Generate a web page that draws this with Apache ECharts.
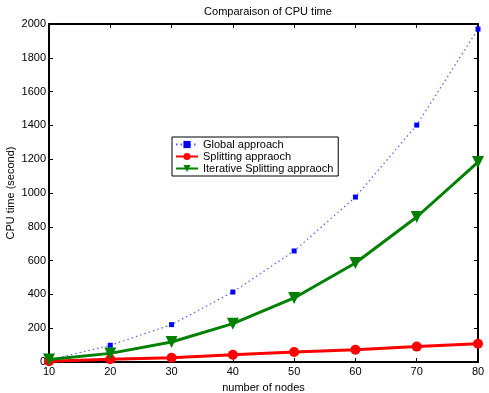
<!DOCTYPE html>
<html>
<head>
<meta charset="utf-8">
<script src="https://cdn.jsdelivr.net/npm/echarts@6/dist/echarts.min.js"></script>
<style>
  html, body { margin: 0; padding: 0; background: #fff; }
  #main { width: 489px; height: 393px; }
</style>
</head>
<body>
<div id="main"></div>
<script>
// data
var nodes = [10, 20, 30, 40, 50, 60, 70, 80];
var globalTime = [12, 99, 221, 414, 657, 976, 1402, 1970];
var splittingTime = [5, 16, 25, 43, 59, 73, 91, 108];
var iterativeTime = [15, 51, 118, 227, 379, 586, 858, 1183];
var yTicks = [0, 200, 400, 600, 800, 1000, 1200, 1400, 1600, 1800, 2000];

function pairs(ys) {
  return nodes.map(function (x, i) { return [x, ys[i]]; });
}

var myChart = echarts.init(document.getElementById("main"));
var font = "Liberation Sans";

var baseAxis = {
  axisLine: { show: true, onZero: false, lineStyle: { color: "#000", width: 2 } },
  axisTick: { show: true, inside: true, length: 4, lineStyle: { color: "#000", width: 1 } },
  splitLine: { show: false },
  axisLabel: { color: "#000", fontFamily: font, fontSize: 11 }
};

var option = {
  animation: false,
  backgroundColor: "#fff",
  title: {
    text: "Comparaison of CPU time",
    left: 263, top: 1, textAlign: "center",
    textStyle: { fontFamily: font, fontSize: 11, fontWeight: "normal", color: "#000" }
  },
  grid: { left: 49, right: 11, top: 24, bottom: 31, containLabel: false, outerBoundsMode: "none" },
  legend: {
    orient: "vertical",
    left: 172, top: 137,
    padding: [2, 5, 2, 3],
    itemGap: 1,
    itemWidth: 22, itemHeight: 9,
    backgroundColor: "#fff",
    borderColor: "#000", borderWidth: 1,
    textStyle: { fontFamily: font, fontSize: 11, color: "#000" },
    data: ["Global approach", "Splitting appraoch", "Iterative Splitting appraoch"]
  },
  xAxis: [
    Object.assign({}, baseAxis, {
      type: "value", min: 10, max: 80, interval: 10,
      name: "number of nodes", nameLocation: "middle", nameGap: 20, nameMoveOverlap: false,
      nameTextStyle: { fontFamily: font, fontSize: 11, color: "#000" },
      axisLabel: Object.assign({}, baseAxis.axisLabel, { margin: 4 })
    }),
    Object.assign({}, baseAxis, {
      type: "value", min: 10, max: 80, interval: 10, position: "top",
      axisLabel: { show: false }
    })
  ],
  yAxis: [
    Object.assign({}, baseAxis, {
      type: "value", min: yTicks[0], max: yTicks[yTicks.length - 1], interval: 200,
      name: "CPU time (second)", nameLocation: "middle", nameGap: 33, nameMoveOverlap: false,
      nameTextStyle: { fontFamily: font, fontSize: 11, color: "#000" },
      axisLabel: Object.assign({}, baseAxis.axisLabel, {
        margin: 3,
        formatter: function (v) { return String(v); }
      })
    }),
    Object.assign({}, baseAxis, {
      type: "value", min: yTicks[0], max: yTicks[yTicks.length - 1], interval: 200, position: "right",
      axisLabel: { show: false }
    })
  ],
  series: [
    {
      name: "Global approach",
      type: "line",
      data: pairs(globalTime),
      symbol: "rect", symbolSize: 5,
      itemStyle: { color: "#0000ff" },
      lineStyle: { color: "#5a5aff", width: 1.2, type: [1.5, 3] },
      z: 3
    },
    {
      name: "Splitting appraoch",
      type: "line",
      data: pairs(splittingTime),
      symbol: "circle", symbolSize: 10,
      itemStyle: { color: "#ff0000" },
      lineStyle: { color: "#ff0000", width: 3 },
      z: 4
    },
    {
      name: "Iterative Splitting appraoch",
      type: "line",
      data: pairs(iterativeTime),
      symbol: "triangle", symbolRotate: 180, symbolSize: 12,
      itemStyle: { color: "#008000" },
      lineStyle: { color: "#008000", width: 3 },
      z: 5
    }
  ]
};

myChart.setOption(option);
</script>
</body>
</html>
